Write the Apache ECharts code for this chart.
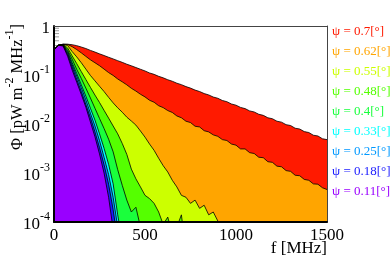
<!DOCTYPE html>
<html><head><meta charset="utf-8">
<script src="https://cdn.jsdelivr.net/npm/echarts@6/dist/echarts.min.js"></script>
<style>html,body{margin:0;padding:0;background:#fff}#c{width:390px;height:265px}</style>
</head><body><div id="c"></div>
<script>
// frequency grid [MHz]
const freq = [0,25,50,75,100,125,150,175,200,225,250,275,300,325,350,375,400,425,450,475,
  500,525,550,575,600,625,650,675,700,725,750,775,800,825,850,875,900,925,950,975,
  1000,1025,1050,1075,1100,1125,1150,1175,1200,1225,1250,1275,1300,1325,1350,1375,1400,1425,1450,1475,1500];

const psiLabels = ['ψ = 0.7[°]','ψ = 0.62[°]','ψ = 0.55[°]','ψ = 0.48[°]','ψ = 0.4[°]','ψ = 0.33[°]','ψ = 0.25[°]','ψ = 0.18[°]','ψ = 0.11[°]'];
const colors = ['#ff1a00','#ffa500','#ccff00','#55ff00','#1aff3c','#00ffff','#0099ff','#1a1aff','#9900ff'];

// Φ [pW m^-2 MHz^-1] on the freq grid (each list starts at 0 MHz)
const phi070 = [0.33,0.405,0.425,0.425,0.415,0.397,0.372,0.347,0.318,0.294,0.270,0.250,0.230,0.213,0.196,0.181,0.166,0.154,0.142,0.131,
  0.121,0.110,0.103,0.094,0.0875,0.080,0.0745,0.068,0.0635,0.058,0.0540,0.0492,0.0460,0.0418,0.0392,0.0355,0.0335,0.0302,0.0285,0.0256,
  0.0242,0.0218,0.0206,0.0185,0.0176,0.0158,0.0150,0.0134,0.0128,0.0114,0.0109,0.0097,0.0093,0.0082,0.0079,0.0070,0.0067,0.0059,0.0057,0.0050,0.0048];
const phi062 = [0.33,0.405,0.425,0.42,0.378,0.330,0.283,0.240,0.204,0.178,0.155,0.132,0.112,0.098,0.083,0.0725,0.063,0.0535,0.047,0.0405,
  0.0357,0.0305,0.0278,0.0236,0.0216,0.0188,0.0172,0.0146,0.0134,0.0114,0.0107,0.0090,0.0087,0.0073,0.0069,0.0060,0.0056,0.0048,0.0046,0.0039,
  0.0037,0.0031,0.0031,0.0026,0.0025,0.0021,0.00205,0.0017,0.00165,0.00138,0.00134,0.00112,0.00108,0.00090,0.00088,0.00074,0.00071,0.00060,0.00059,0.00050,0.00046];
const phi055 = [0.33,0.405,0.42,0.40,0.30,0.234,0.178,0.132,0.098,0.076,0.059,0.046,0.035,0.027,0.0214,0.0174,0.0138,0.0115,0.0095,0.0072,
  0.0054,0.0039,0.0029,0.0020,0.00141,0.00105,0.00071,0.00052,0.00035,0.00032,0.00024,0.00028,0.00019,0.00022,0.00014,0.00016,0.000105,0.00004];
const phi048 = [0.33,0.405,0.42,0.355,0.245,0.17,0.117,0.081,0.056,0.039,0.0275,0.019,0.0132,0.0091,0.0063,0.0040,0.0024,0.0012,0.00076,0.00052,
  0.00035,0.00030,0.00024,0.00016,0.000089,0.000126,0.000056,0.000079,0.00014,0.000025];
const phi040 = [0.33,0.405,0.41,0.32,0.21,0.13,0.085,0.054,0.034,0.021,0.013,0.0081,0.0049,0.0027,0.00117,0.00056,0.00028,0.00016,0.00020,0.000079,0.000032];
const phi033 = [0.33,0.405,0.41,0.30,0.178,0.107,0.063,0.037,0.021,0.012,0.0063,0.0032,0.0015,0.0006,0.00014,0.00004];
const phi025 = [0.33,0.405,0.40,0.28,0.162,0.095,0.055,0.031,0.0166,0.0091,0.0046,0.0021,0.00093,0.00032,0.000079,0.00002];
const phi018 = [0.33,0.405,0.40,0.26,0.145,0.081,0.046,0.025,0.0135,0.0069,0.0033,0.00148,0.00059,0.000178,0.00004];
const phi011 = [0.33,0.405,0.39,0.24,0.126,0.071,0.040,0.022,0.011,0.0055,0.00245,0.0010,0.00032,0.000071,0.000016];

const xTicks = [0,500,1000,1500];
const yTicks = [1,0.1,0.01,0.001,0.0001];
const yTickExp = ['', '-1', '-2', '-3', '-4'];
const yMinorTicks = [0.9,0.8,0.7,0.6,0.5,0.4,0.3,0.2,0.09,0.08,0.07,0.06,0.05,0.04,0.03,0.02,
  0.009,0.008,0.007,0.006,0.005,0.004,0.003,0.002,0.0009,0.0008,0.0007,0.0006,0.0005,0.0004,0.0003,0.0002];

const seriesValues = [phi070,phi062,phi055,phi048,phi040,phi033,phi025,phi018,phi011];
const FONT = 'Liberation Serif';

const chart = echarts.init(document.getElementById('c'), null, {renderer:'canvas'});

const lineSeries = seriesValues.map((vals, k) => ({
  name: psiLabels[k],
  type: 'line',
  xAxisIndex: 0, yAxisIndex: 0,
  data: vals.map((v, i) => [freq[i], v]),
  symbol: 'none',
  smooth: false,
  clip: true,
  lineStyle: {color: '#000', width: 0.8},
  itemStyle: {color: colors[k]},
  areaStyle: {color: colors[k], opacity: 1, origin: 'start'},
  emphasis: {disabled: true},
  z: 2
}));

chart.setOption({
  animation: false,
  backgroundColor: '#fff',
  grid: {left: 54, right: 63, top: 26, bottom: 43, containLabel: false, outerBoundsMode: 'none'},
  legend: {
    orient: 'vertical', left: 322, top: 20,
    icon: 'rect', itemWidth: 0, itemHeight: 12, itemGap: 7,
    itemStyle: {opacity: 0}, lineStyle: {opacity: 0},
    selectedMode: false,
    textStyle: {fontFamily: FONT, fontSize: 13},
    data: psiLabels.map((n, k) => ({name: n, textStyle: {color: colors[k]}}))
  },
  xAxis: [{
    type: 'value', min: 0, max: 1500, interval: 500, position: 'bottom', z: 5,
    axisLine: {show: true, onZero: false, lineStyle: {color: '#000', width: 2}},
    axisTick: {show: false},
    splitLine: {show: false},
    axisLabel: {fontFamily: FONT, fontSize: 17, color: '#000', margin: 5,
      customValues: xTicks, formatter: v => String(v)}
  }, {
    type: 'value', min: 0, max: 1500, position: 'top', z: 5,
    axisLine: {show: true, onZero: false, lineStyle: {color: '#444', width: 1}},
    axisTick: {show: false}, axisLabel: {show: false}, splitLine: {show: false}
  }],
  yAxis: [{
    type: 'log', logBase: 10, min: 0.0001, max: 1, position: 'left', z: 5,
    axisLine: {show: true, onZero: false, lineStyle: {color: '#000', width: 2}},
    axisTick: {show: false},
    splitLine: {show: false},
    axisLabel: {
      fontFamily: FONT, color: '#000', margin: 4,
      formatter: v => {
        const idx = yTicks.findIndex(t => Math.abs(Math.log10(t) - Math.log10(v)) < 1e-6);
        if (idx < 0) return '';
        if (yTickExp[idx] === '') return '{b|1}';
        return '{b|10}{s|' + yTickExp[idx] + '}';
      },
      rich: {
        b: {fontFamily: FONT, fontSize: 17, color: '#000', padding: [6, 0, 0, 0]},
        s: {fontFamily: FONT, fontSize: 12, color: '#000', verticalAlign: 'top'}
      }
    }
  }, {
    type: 'log', logBase: 10, min: 0.0001, max: 1, position: 'right', z: 5,
    axisLine: {show: true, onZero: false, lineStyle: {color: '#444', width: 1}},
    axisTick: {show: false}, axisLabel: {show: false}, splitLine: {show: false}
  }],
  graphic: [{
    type: 'text', x: 15, y: 87, rotation: Math.PI / 2,
    style: {
      text: '{t|Φ [pW m}{s|-2}{t| MHz}{s|-1}{t|]}',
      align: 'center', verticalAlign: 'middle',
      rich: {
        t: {fontFamily: FONT, fontSize: 16.5, fill: '#000', padding: [6, 0, 0, 0]},
        s: {fontFamily: FONT, fontSize: 12, fill: '#000', verticalAlign: 'top'}
      }
    }
  }, {
    type: 'text', x: 327, y: 249,
    style: {text: 'f [MHz]', fontFamily: FONT, fontSize: 17, fill: '#000', align: 'right', verticalAlign: 'middle'}
  }],
  series: [{
    type: 'custom', silent: true, z: 1, xAxisIndex: 0, yAxisIndex: 0,
    data: yMinorTicks.map(v => [0, v]),
    renderItem: (params, api) => {
      const p = api.coord([api.value(0), api.value(1)]);
      return {type: 'line', shape: {x1: p[0], y1: p[1], x2: p[0] + 5, y2: p[1]}, style: {stroke: '#999', lineWidth: 1}};
    }
  }].concat(lineSeries)
});
</script></body></html>
